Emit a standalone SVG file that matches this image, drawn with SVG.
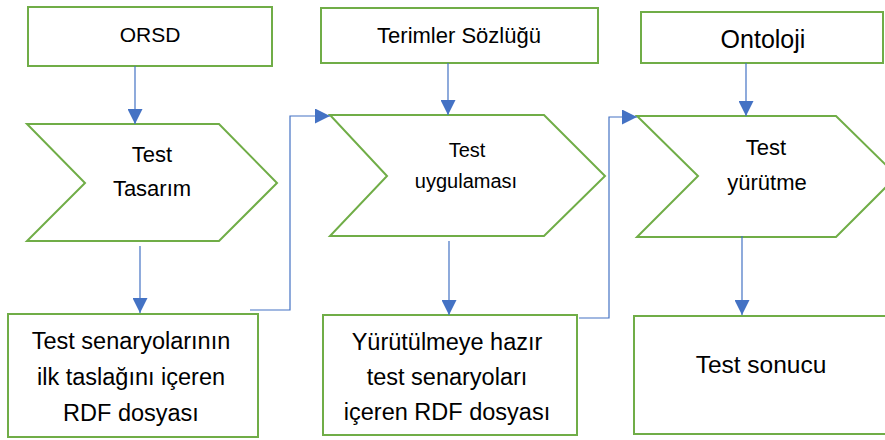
<svg xmlns="http://www.w3.org/2000/svg" width="885" height="440" viewBox="0 0 885 440">
<style>
.box{fill:#fff;stroke:#70AD47;stroke-width:2}
.t{font-family:"Liberation Sans",Arial,sans-serif;fill:#000;text-anchor:middle}
.c{fill:none;stroke:#4472C4;stroke-width:1.2}
</style>
<defs>
<marker id="ah" markerUnits="userSpaceOnUse" markerWidth="15" markerHeight="15" viewBox="0 0 15 15" refX="15" refY="7.5" orient="auto">
<path d="M0,0 L15,7.5 L0,15 Z" fill="#4472C4"/>
</marker>
</defs>
<rect width="885" height="440" fill="#fff"/>
<g id="orsd">
<rect class="box" x="28" y="7" width="244" height="59"/>
<text class="t" x="150" y="42" font-size="21">ORSD</text>
</g>
<g id="terimler">
<rect class="box" x="321" y="8" width="277" height="55"/>
<text class="t" x="459" y="43" font-size="22">Terimler Sözlüğü</text>
</g>
<g id="ontoloji">
<rect class="box" x="641" y="12" width="242" height="51"/>
<text class="t" x="763" y="48" font-size="25">Ontoloji</text>
</g>
<g id="test-tasarim">
<polygon class="box" points="27,124 219,124 277,183 219,241 27,241 85,183"/>
<text class="t" x="152" y="162" font-size="22">Test</text>
<text class="t" x="152" y="196" font-size="22">Tasarım</text>
</g>
<g id="test-uygulamasi">
<polygon class="box" points="330,115 544,115 605,176 544,236 330,236 387,176"/>
<text class="t" x="467" y="157" font-size="20">Test</text>
<text class="t" x="466" y="188" font-size="20">uygulaması</text>
</g>
<g id="test-yurutme">
<polygon class="box" points="637,116 836,116 897,176 836,237 637,237 698,176"/>
<text class="t" x="766" y="155" font-size="22">Test</text>
<text class="t" x="767" y="190" font-size="22">yürütme</text>
</g>
<g id="rdf-taslak">
<rect class="box" x="8" y="314" width="250" height="123"/>
<text class="t" x="131" y="349" font-size="23.5">Test senaryolarının</text>
<text class="t" x="131" y="385" font-size="23.5">ilk taslağını içeren</text>
<text class="t" x="131" y="421" font-size="23.5">RDF dosyası</text>
</g>
<g id="rdf-hazir">
<rect class="box" x="323" y="315" width="254" height="120"/>
<text class="t" x="447" y="350" font-size="23.5">Yürütülmeye hazır</text>
<text class="t" x="447" y="385" font-size="23.5">test senaryoları</text>
<text class="t" x="447" y="420" font-size="23.5">içeren RDF dosyası</text>
</g>
<g id="test-sonucu">
<rect class="box" x="634" y="316" width="260" height="118"/>
<text class="t" x="761" y="373" font-size="24.5">Test sonucu</text>
</g>
<g id="connectors">
<line class="c" x1="135" y1="66" x2="135" y2="124" marker-end="url(#ah)"/>
<line class="c" x1="448" y1="63" x2="448" y2="115" marker-end="url(#ah)"/>
<line class="c" x1="746" y1="63" x2="746" y2="116" marker-end="url(#ah)"/>
<line class="c" x1="140" y1="246" x2="140" y2="313" marker-end="url(#ah)"/>
<line class="c" x1="449" y1="241" x2="449" y2="315" marker-end="url(#ah)"/>
<line class="c" x1="742" y1="236" x2="742" y2="315" marker-end="url(#ah)"/>
<polyline class="c" points="250,310 290,310 290,116 330,116" marker-end="url(#ah)"/>
<polyline class="c" points="579,318 609,318 609,117 637,117" marker-end="url(#ah)"/>
</g>
</svg>
